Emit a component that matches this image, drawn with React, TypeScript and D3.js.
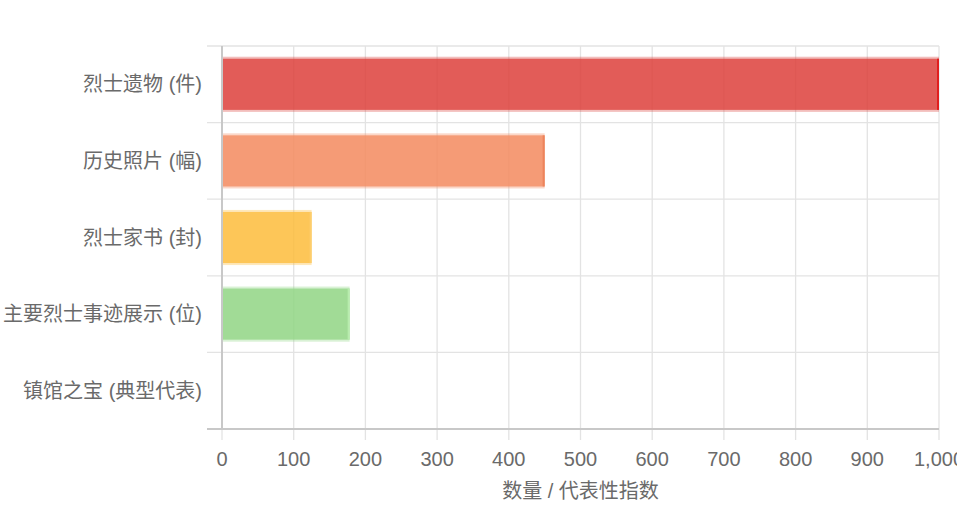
import React from "react";
import * as d3 from "d3";

const categories = ["烈士遗物 (件)", "历史照片 (幅)", "烈士家书 (封)", "主要烈士事迹展示 (位)", "镇馆之宝 (典型代表)"];
const values = [1000, 450, 125, 178, 0];
const fillColors = ["rgba(221,68,62,0.8)", "rgba(244,140,98,0.8)", "rgba(253,188,60,0.78)", "rgba(146,214,134,0.8)", "rgba(120,120,200,0.8)"];
const edgeColors = ["rgba(221,68,62,0.35)", "rgba(244,140,98,0.35)", "rgba(253,188,60,0.35)", "rgba(146,214,134,0.35)", "rgba(120,120,200,0.35)"];
const rightColors = ["rgba(225,30,30,1)", "rgba(236,130,90,0.9)", "rgba(253,210,120,0.6)", "rgba(190,240,180,0.8)", "rgba(120,120,200,0.8)"];
const xTicks = [0, 100, 200, 300, 400, 500, 600, 700, 800, 900, 1000];
const xTitle = "数量 / 代表性指数";

const W = 957;
const H = 515;
const left = 222;
const right = 939;
const top = 46;
const bottom = 429;
const FONT = "'Liberation Sans', Arial, 'Noto Sans CJK SC', sans-serif";

export default function App() {
  const x = d3.scaleLinear().domain([0, 1000]).range([left, right]);
  const y = d3.scaleBand<string>().domain(categories).range([top, bottom]).padding(0);
  const bw = y.bandwidth();
  const barH = bw * 0.72;
  const fmt = d3.format(",");
  const boundaries = categories.map((c) => y(c) as number).concat([bottom]);

  return (
    <svg width={W} height={H} style={{ position: "absolute", left: 0, top: 0, background: "#fff" }}>
      {xTicks.map((t) => (
        <line key={"vg" + t} x1={x(t)} x2={x(t)} y1={top} y2={bottom + 11} stroke="#e3e3e3" strokeWidth={1.3} />
      ))}
      {boundaries.map((b, i) => (
        <line key={"hg" + i} x1={207} x2={right} y1={b} y2={b} stroke="#e3e3e3" strokeWidth={1.3} />
      ))}
      {categories.map((c, i) => {
        const yc = (y(c) as number) + bw / 2;
        const y0 = yc - barH / 2;
        const w = x(values[i]) - x(0);
        if (w <= 0) return null;
        return (
          <g key={"b" + i}>
            <rect x={x(0)} y={y0} width={w} height={barH} fill={edgeColors[i]} />
            <rect x={x(0)} y={y0 + 2} width={w} height={barH - 4} fill={fillColors[i]} />
            <rect x={x(0) + w - 2} y={y0 + 2} width={2} height={barH - 4} fill={rightColors[i]} />
          </g>
        );
      })}
      <line x1={left} x2={left} y1={top} y2={bottom} stroke="#c8c8c8" strokeWidth={2} />
      <line x1={207} x2={right} y1={bottom} y2={bottom} stroke="#c8c8c8" strokeWidth={2} />
      {xTicks.map((t) => (
        <text key={"xt" + t} x={x(t)} y={459} textAnchor="middle" dominantBaseline="central" fontFamily={FONT} fontSize={20} fill="#6a6a6a">
          {fmt(t)}
        </text>
      ))}
      {categories.map((c) => (
        <text key={"yl" + c} x={202} y={(y(c) as number) + bw / 2} textAnchor="end" dominantBaseline="central" fontFamily={FONT} fontSize={20} fill="#6a6a6a">
          {c}
        </text>
      ))}
      <text x={(left + right) / 2} y={491} textAnchor="middle" dominantBaseline="central" fontFamily={FONT} fontSize={20} fill="#6a6a6a">
        {xTitle}
      </text>
    </svg>
  );
}
